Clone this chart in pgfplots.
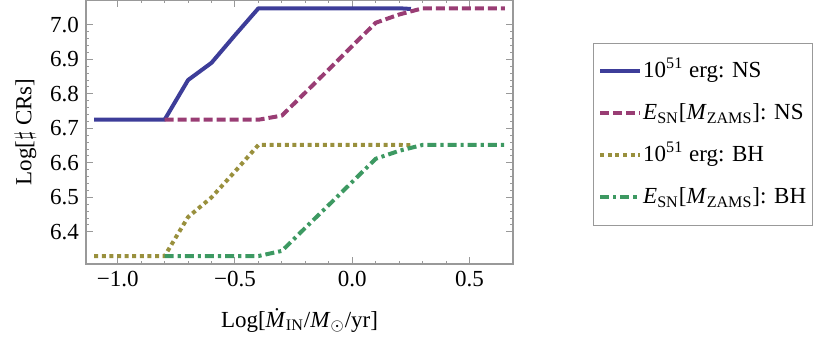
\documentclass[border=0pt]{standalone}
\usepackage{fontspec}
\setmainfont{Liberation Serif}
\usepackage{pgfplots}
\pgfplotsset{compat=1.18}
\definecolor{cblue}{rgb}{0.24,0.24,0.6}
\definecolor{cpurple}{rgb}{0.6,0.24,0.456}
\definecolor{colive}{rgb}{0.6,0.564,0.24}
\definecolor{cgreen}{rgb}{0.24,0.6,0.384}
\newcommand{\lbl}{\fontsize{11.5}{13.5}\selectfont}

\begin{document}
\begin{tikzpicture}
\path[use as bounding box] (-43pt,-46pt) rectangle (372pt,132pt);
\begin{axis}[
    at={(0,0)}, anchor=south west,
    scale only axis,
    width=213.5pt, height=132pt,
    xmin=-1.135, xmax=0.685,
    ymin=6.307, ymax=7.072,
    xtick={-1,-0.5,0,0.5},
    xticklabels={−1.0,−0.5,0.0,0.5},
    ytick={6.4,6.5,6.6,6.7,6.8,6.9,7.0},
    minor x tick num=4,
    minor y tick num=4,
    yticklabel style={/pgf/number format/.cd,fixed,fixed zerofill,precision=1,assume math mode=true},
    tick label style={font=\lbl, black},
    label style={font=\lbl},
    major tick length=3.5pt,
    minor tick length=1.6pt,
    every tick/.style={gray!80, line width=0.5pt},
    axis line style={gray!80, line width=0.6pt},
    xlabel={Log[\textit{\.{M}}\textsubscript{IN}/\textit{M}\textsubscript{$\odot$}/yr]},
    ylabel={Log[$\sharp$ CRs]},
    xlabel style={yshift=-4pt},
    legend cell align=left,
    legend style={at={(1.187,0.837)}, anchor=north west, draw=gray!80,
        font=\lbl, row sep=10pt, inner xsep=2.5pt, inner ysep=8.5pt,
        nodes={inner sep=0.5pt, text height=8pt, text depth=2pt}},
    legend image code/.code={\draw[#1] (0pt,0pt) -- (20pt,0pt);},
    every axis plot/.append style={line width=2pt, line join=round},
]
\addplot[cblue] coordinates {
    (-1.1,6.725) (-0.8,6.725) (-0.7,6.84) (-0.6,6.89) (-0.5,6.97)
    (-0.4,7.048) (-0.3,7.048) (-0.2,7.048) (-0.1,7.048) (0.0,7.048)
    (0.1,7.048) (0.2,7.048) (0.25,7.046)
};
\addlegendentry{10\textsuperscript{51} erg: NS}
\addplot[cpurple, dash pattern=on 4.5pt off 2pt] coordinates {
    (-0.8,6.725) (-0.7,6.725) (-0.6,6.725) (-0.5,6.725) (-0.4,6.725)
    (-0.3,6.737) (-0.2,6.804) (-0.1,6.871) (0.0,6.939) (0.1,7.006)
    (0.2,7.03) (0.3,7.048) (0.4,7.048) (0.5,7.048) (0.65,7.048)
};
\addlegendentry{\textit{E}\textsubscript{SN}[\textit{M}\textsubscript{ZAMS}]: NS}
\addplot[colive, dash pattern=on 2pt off 1.8pt] coordinates {
    (-1.1,6.33) (-0.8,6.33) (-0.7,6.443) (-0.6,6.5) (-0.5,6.575)
    (-0.4,6.652) (-0.3,6.652) (-0.2,6.652) (-0.1,6.652) (0.0,6.652)
    (0.1,6.652) (0.2,6.652) (0.25,6.651)
};
\addlegendentry{10\textsuperscript{51} erg: BH}
\addplot[cgreen, dash pattern=on 4.5pt off 2pt on 1.6pt off 2pt] coordinates {
    (-0.8,6.33) (-0.7,6.33) (-0.6,6.33) (-0.5,6.33) (-0.4,6.33)
    (-0.3,6.345) (-0.2,6.412) (-0.1,6.478) (0.0,6.545) (0.1,6.612)
    (0.2,6.635) (0.3,6.652) (0.4,6.652) (0.5,6.652) (0.65,6.652)
};
\addlegendentry{\textit{E}\textsubscript{SN}[\textit{M}\textsubscript{ZAMS}]: BH}
\end{axis}
\end{tikzpicture}
\end{document}
